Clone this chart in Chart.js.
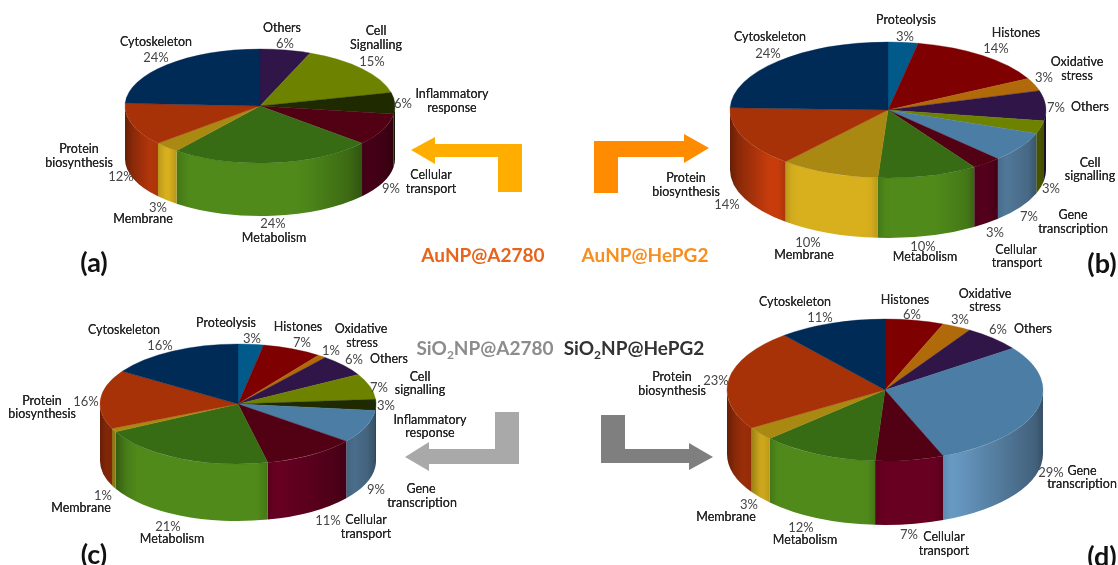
<!DOCTYPE html>
<html>
<head>
<meta charset="utf-8">
<script src="https://cdn.jsdelivr.net/npm/chart.js"></script>
<style>
  html, body { margin: 0; padding: 0; background: #fff; }
  #page { position: relative; width: 1118px; height: 565px; overflow: hidden; font-family: Lato, sans-serif; filter: blur(0.35px); }
  canvas { position: absolute; }
  svg { position: absolute; left: 0; top: 0; }
  .t { position: absolute; transform: translate(-50%, -50%); white-space: nowrap; line-height: 1; }
  .name { font-size: 12.5px; color: #262626; text-shadow: 0 0 0.4px #262626; }
  .pct { font-size: 13px; color: #454545; }
  .title { font-size: 19px; font-weight: 700; }
  .title sub { font-size: 12px; line-height: 0; }
  .letter { font-size: 27px; font-weight: 700; color: #111; }
</style>
</head>
<body>
<div id="page">
  <svg width="1118" height="565">
    <polygon fill="#ffae00" points="411,150 435,137 435,144 522,144 522,192 498,192 498,157 435,157 435,164"/>
    <polygon fill="#ff8c00" points="594,141 684,141 684,134 709,148 684,163 684,157 618,157 618,193 594,193"/>
    <polygon fill="#a9a9a9" points="495,412 519,412 519,464 429,464 429,471 405,457 429,442 429,449 495,449"/>
    <polygon fill="#7f7f7f" points="601,415 625,415 625,449 689,449 689,443 713,457 689,470 689,463 601,463"/>
  </svg>
</div>
<script>
const aCats = ['Others', 'Cell Signalling', 'Inflammatory response', 'Cellular transport', 'Metabolism', 'Membrane', 'Protein biosynthesis', 'Cytoskeleton'];
const aVals = [6, 15, 6, 9, 24, 3, 12, 24];

const bCats = ['Proteolysis', 'Histones', 'Oxidative stress', 'Others', 'Cell signalling', 'Gene transcription', 'Cellular transport', 'Metabolism', 'Membrane', 'Protein biosynthesis', 'Cytoskeleton'];
const bVals = [3, 14, 3, 7, 3, 7, 3, 10, 10, 14, 24];

const cCats = ['Proteolysis', 'Histones', 'Oxidative stress', 'Others', 'Cell signalling', 'Inflammatory response', 'Gene transcription', 'Cellular transport', 'Metabolism', 'Membrane', 'Protein biosynthesis', 'Cytoskeleton'];
const cVals = [3, 7, 1, 6, 7, 3, 9, 11, 21, 1, 16, 16];

const dCats = ['Histones', 'Oxidative stress', 'Others', 'Gene transcription', 'Cellular transport', 'Metabolism', 'Membrane', 'Protein biosynthesis', 'Cytoskeleton'];
const dVals = [6, 3, 6, 29, 7, 12, 3, 23, 11];

// [top colour, wall colour]
const colours = {
  'Cytoskeleton': ['#012b57', '#023a70'],
  'Others': ['#2f1548', '#3d1c5e'],
  'Cell signalling': ['#6d8300', '#86a000'],
  'Inflammatory response': ['#1f2a00', '#2a3800'],
  'Cellular transport': ['#520013', '#680022'],
  'Metabolism': ['#376b14', '#4f8a1a'],
  'Membrane': ['#a98912', '#d8b01e'],
  'Protein biosynthesis': ['#a83208', '#c83c0c'],
  'Gene transcription': ['#4c7da4', '#72a8d6'],
  'Histones': ['#7e0000', '#960000'],
  'Oxidative stress': ['#b06a0a', '#c87a10'],
  'Proteolysis': ['#025a8b', '#0370a8']
};

// label spots, same order as the categories: word spots then percent spot
const aSpots = [
  [[282, 28], [285, 43]],
  [[376, 31], [376, 45], [372, 61]],
  [[452, 94], [452, 108], [403, 103]],
  [[431, 175], [431, 189], [391, 188]],
  [[274, 238], [273, 223]],
  [[143, 219], [158, 207]],
  [[79, 149], [79, 163], [121, 176]],
  [[156, 42], [156, 57]]
];
const bSpots = [
  [[906, 20], [905, 36]],
  [[1016, 33], [996, 48]],
  [[1077, 62], [1077, 76], [1044, 77]],
  [[1090, 107], [1056, 107]],
  [[1090, 163], [1090, 176], [1051, 188]],
  [[1073, 215], [1073, 229], [1029, 216]],
  [[1016, 250], [1017, 263], [995, 232]],
  [[925, 257], [923, 246]],
  [[804, 255], [808, 242]],
  [[686, 178], [686, 192], [727, 204]],
  [[770, 37], [768, 53]]
];
const cSpots = [
  [[226, 323], [252, 338]],
  [[298, 327], [302, 342]],
  [[361, 329], [362, 343], [331, 350]],
  [[389, 359], [354, 359]],
  [[420, 377], [420, 390], [379, 387]],
  [[430, 420], [430, 433], [386, 405]],
  [[421, 489], [422, 503], [376, 489]],
  [[366, 520], [366, 534], [328, 520]],
  [[172, 539], [168, 526]],
  [[81, 508], [103, 495]],
  [[42, 401], [42, 414], [86, 401]],
  [[124, 330], [160, 345]]
];
const dSpots = [
  [[905, 300], [912, 314]],
  [[985, 294], [985, 307], [960, 319]],
  [[1033, 329], [998, 329]],
  [[1082, 471], [1082, 484], [1051, 472]],
  [[944, 537], [944, 551], [909, 534]],
  [[805, 540], [801, 527]],
  [[726, 517], [749, 504]],
  [[672, 377], [672, 391], [716, 380]],
  [[795, 302], [820, 317]]
];

const page = document.getElementById('page');

function addText(txt, x, y, cls, colour) {
  const el = document.createElement('div');
  el.className = 't ' + cls;
  el.innerHTML = txt;
  el.style.left = x + 'px';
  el.style.top = y + 'px';
  if (colour) el.style.color = colour;
  page.appendChild(el);
}

function shade(hex, f) {
  const n = parseInt(hex.slice(1), 16);
  const r = Math.round(((n >> 16) & 255) * f);
  const g = Math.round(((n >> 8) & 255) * f);
  const b = Math.round((n & 255) * f);
  return `rgb(${r},${g},${b})`;
}

// light falls off towards the far left and right of the wall
function wallLight(t) {
  if (t < -0.75) return 0.6 + 0.4 * (t + 1) / 0.25;
  if (t > 0.3) return 1 - 0.45 * (t - 0.3) / 0.7;
  return 1;
}

// squashes the pie into an ellipse and puts the wall under it
const tiltPlugin = {
  id: 'tilt',
  beforeDatasetsDraw(chart, args, opts) {
    const ctx = chart.ctx;
    const arcs = chart.getDatasetMeta(0).data;
    const cx = arcs[0].x, cy = arcs[0].y, rx = arcs[0].outerRadius;
    const ry = opts.ry, depth = opts.depth;

    arcs.forEach((arc, i) => {
      const a = Math.max(arc.startAngle, 0);
      const b = Math.min(arc.endAngle, Math.PI);
      if (b <= a) return;
      const x0 = cx + rx * Math.cos(b), x1 = cx + rx * Math.cos(a);
      const grad = ctx.createLinearGradient(x0, 0, x1, 0);
      const wall = opts.walls[i];
      for (let s = 0; s <= 14; s++) {
        const p = s / 14;
        const x = x0 + (x1 - x0) * p;
        let f = wallLight((x - cx) / rx);
        const d = Math.min(x - x0, x1 - x);
        if (d < 8) f *= 0.86 + 0.14 * d / 8;
        grad.addColorStop(p, shade(wall, f));
      }
      ctx.beginPath();
      ctx.ellipse(cx, cy, rx, ry, 0, a, b);
      ctx.ellipse(cx, cy + depth, rx, ry, 0, b, a, true);
      ctx.closePath();
      ctx.fillStyle = grad;
      ctx.fill();
    });

    ctx.save();
    ctx.translate(cx, cy);
    ctx.scale(1, ry / rx);
    ctx.translate(-cx, -cy);
  },
  afterDatasetsDraw(chart) {
    chart.ctx.restore();
  }
};

function makePie(cats, vals, spots, cx, cy, rx, ry, depth) {
  const cv = document.createElement('canvas');
  cv.width = cv.height = 2 * rx + 4;
  cv.style.left = (cx - rx - 2) + 'px';
  cv.style.top = (cy - rx - 2) + 'px';
  page.appendChild(cv);

  const key = c => (c === 'Cell Signalling' ? 'Cell signalling' : c);
  const tops = cats.map(c => colours[key(c)][0]);

  new Chart(cv, {
    type: 'pie',
    data: {
      labels: cats,
      datasets: [{ data: vals, backgroundColor: tops, borderColor: tops, borderWidth: 0.5, radius: rx }]
    },
    options: {
      responsive: false,
      animation: false,
      layout: { padding: 0 },
      plugins: {
        legend: { display: false },
        tooltip: { enabled: false },
        tilt: { ry: ry, depth: depth, walls: cats.map(c => colours[key(c)][1]) }
      }
    },
    plugins: [tiltPlugin]
  });

  cats.forEach((c, i) => {
    const words = c.split(' ');
    words.forEach((w, j) => addText(w, spots[i][j][0], spots[i][j][1], 'name'));
    const p = spots[i][words.length];
    addText(vals[i] + '%', p[0], p[1], 'pct');
  });
}

makePie(aCats, aVals, aSpots, 260, 106, 135, 57, 53);
makePie(bCats, bVals, bSpots, 888, 110, 158, 68, 60);
makePie(cCats, cVals, cSpots, 238, 404, 138, 60, 57);
makePie(dCats, dVals, dSpots, 885, 390, 158, 71, 64);

addText('AuNP@A2780', 483, 254, 'title', '#e8641b');
addText('AuNP@HePG2', 645, 254, 'title', '#f78e1e');
addText('SiO<sub>2</sub>NP@A2780', 485, 347, 'title', '#8c8c8c');
addText('SiO<sub>2</sub>NP@HePG2', 634, 347, 'title', '#333333');

addText('(a)', 94, 261, 'letter');
addText('(b)', 1102, 262, 'letter');
addText('(c)', 94, 553, 'letter');
addText('(d)', 1102, 555, 'letter');
</script>
</body>
</html>
